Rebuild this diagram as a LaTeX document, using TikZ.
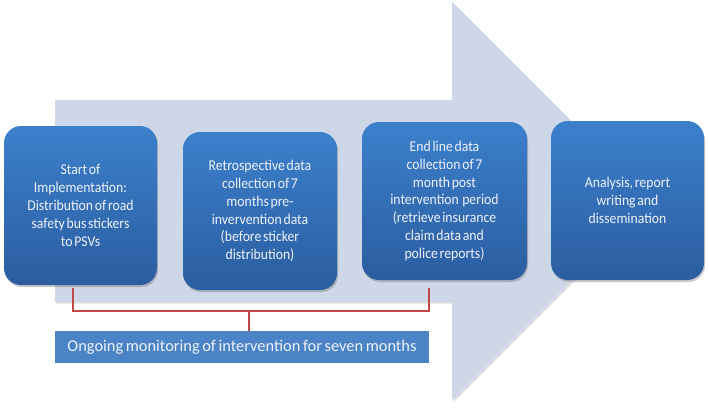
\documentclass[tikz,border=0pt]{standalone}
\usepackage{fontspec}
\setmainfont{Carlito}[FakeStretch=0.92, WordSpace=0.55]
\newfontfamily\monfont{Carlito}[WordSpace=0.7]
\usetikzlibrary{shadows}
\definecolor{arrowfill}{RGB}{206,215,231}
\definecolor{boxtop}{RGB}{60,128,204}
\definecolor{boxbot}{RGB}{43,93,160}
\definecolor{monfill}{RGB}{74,132,198}
\definecolor{redln}{RGB}{192,72,70}
\definecolor{txt}{RGB}{238,242,250}
\tikzset{
  stepbox/.style={rounded corners=17pt*0.75, top color=boxtop, bottom color=boxbot,
    draw=none, text=txt, align=center, font=\fontsize{11.2}{13.4}\selectfont,
    inner sep=0pt,
    drop shadow={shadow xshift=0.8pt, shadow yshift=-1.5pt, opacity=0.35, fill=black!60}},
  monbox/.style={fill=monfill, draw=none, text=txt, font=\monfont\fontsize{12.3}{14}\selectfont,
    inner sep=0pt},
  redline/.style={draw=redln, line width=2.2pt},
}
\begin{document}
\begin{tikzpicture}[x=0.75pt, y=-0.75pt]
\useasboundingbox (0,0) rectangle (709,408);
% big background arrow
\fill[black!25, opacity=0.5] (56,101.5) -- (453.5,101.5) -- (453.5,3.5) -- (653,203) -- (453.5,402) -- (453.5,303.5) -- (56,303.5) -- cycle;
\fill[arrowfill] (55,100) -- (452,100) -- (452,2) -- (651,201) -- (452,400) -- (452,302) -- (55,302) -- cycle;
% step boxes
\node[stepbox, minimum width=153*0.75pt, minimum height=159*0.75pt] (b1) at (80.5,205.5)
  {Start of\\Implementation:\\Distribution of road\\safety bus stickers\\to PSVs};
\node[stepbox, minimum width=154*0.75pt, minimum height=158*0.75pt] (b2) at (260,211)
  {Retrospective data\\collection of 7\\months pre-\\invervention data\\(before sticker\\distribution)};
\node[stepbox, minimum width=165*0.75pt, minimum height=158*0.75pt] (b3) at (444.5,201)
  {End line data\\collection of 7\\month post\\intervention\ \ period\\(retrieve insurance\\claim data and\\police reports)};
\node[stepbox, minimum width=153*0.75pt, minimum height=159*0.75pt] (b4) at (627.5,200.5)
  {Analysis, report\\writing and\\dissemination};
% monitoring box
\node[monbox, minimum width=374*0.75pt, minimum height=32*0.75pt] (mon) at (242,347)
  {Ongoing monitoring of intervention for seven months};
% bracket
\coordinate (l1) at (73,288);
\coordinate (l2) at (73,311);
\coordinate (r1) at (429,288);
\coordinate (r2) at (429,311);
\coordinate (mid) at (249,311);
\draw[redline] (l1) -- (l2) -- (r2) -- (r1);
\draw[redline] (mid) -- (mid |- mon.north);
\end{tikzpicture}
\end{document}
